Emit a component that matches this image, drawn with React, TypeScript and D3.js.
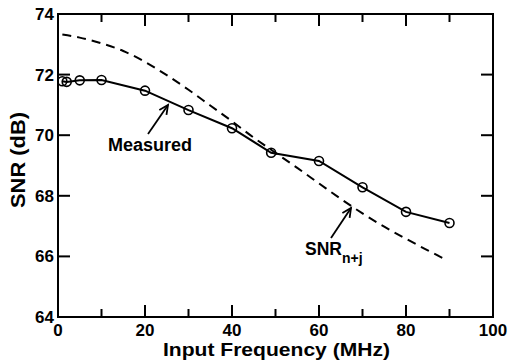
import React from "react";
import * as d3 from "d3";

const measuredFreq = [1, 2, 5, 10, 20, 30, 40, 49, 60, 70, 80, 90];
const measuredSnr = [71.78, 71.76, 71.81, 71.82, 71.47, 70.83, 70.23, 69.42, 69.15, 68.28, 67.47, 67.1];

const theoryFreq = [1, 5, 10, 15, 20, 25, 30, 35, 40, 45, 50, 55, 60, 65, 70, 75, 80, 85, 89.5];
const theorySnr = [73.32, 73.22, 73.03, 72.78, 72.42, 71.98, 71.5, 70.98, 70.46, 69.92, 69.42, 68.92, 68.41, 67.9, 67.42, 66.98, 66.58, 66.2, 65.87];

const xMajorTicks = [0, 20, 40, 60, 80, 100];
const xMinorTicks = [10, 30, 50, 70, 90];
const yTicks = [64, 66, 68, 70, 72, 74];

const W = 516;
const H = 362;
const M = { left: 58, right: 23, top: 14, bottom: 45 };
const FONT = "'Liberation Sans', Arial, Helvetica, sans-serif";

export default function App() {
  const x = d3.scaleLinear().domain([0, 100]).range([M.left, W - M.right]);
  const y = d3.scaleLinear().domain([64, 74]).range([H - M.bottom, M.top]);
  const measuredPath = d3
    .line<[number, number]>()
    .x((d) => x(d[0]))
    .y((d) => y(d[1]))(measuredFreq.map((f, i) => [f, measuredSnr[i]]));
  const theoryPath = d3
    .line<[number, number]>()
    .curve(d3.curveMonotoneX)
    .x((d) => x(d[0]))
    .y((d) => y(d[1]))(theoryFreq.map((f, i) => [f, theorySnr[i]]));

  const x0 = x(0), x1 = x(100), y0 = y(64), y1 = y(74);
  const major = 12, minor = 8;

  const arrow = (fx: number, fy: number, tx: number, ty: number) => {
    const ang = Math.atan2(ty - fy, tx - fx);
    const len = 10, spread = 0.45;
    const a1 = ang + Math.PI - spread, a2 = ang + Math.PI + spread;
    return (
      <g stroke="#000" strokeWidth={1.8} fill="none">
        <line x1={fx} y1={fy} x2={tx} y2={ty} />
        <path d={`M${tx + len * Math.cos(a1)},${ty + len * Math.sin(a1)} L${tx},${ty} L${tx + len * Math.cos(a2)},${ty + len * Math.sin(a2)}`} />
      </g>
    );
  };

  return (
    <svg width={W} height={H} style={{ position: "absolute", left: 0, top: 0, background: "#fff" }} fontFamily={FONT} fontWeight="bold">
      <rect x={0} y={0} width={W} height={H} fill="#fff" />
      <path d={theoryPath || ""} fill="none" stroke="#000" strokeWidth={2} strokeDasharray="9,6" />
      <path d={measuredPath || ""} fill="none" stroke="#000" strokeWidth={2} />
      {measuredFreq.map((f, i) => (
        <circle key={i} cx={x(f)} cy={y(measuredSnr[i])} r={4.5} fill="none" stroke="#000" strokeWidth={1.6} />
      ))}
      <rect x={x0} y={y1} width={x1 - x0} height={y0 - y1} fill="none" stroke="#000" strokeWidth={2} />
      <g stroke="#000" strokeWidth={2}>
        {xMajorTicks.map((t) => (
          <g key={"M" + t}>
            <line x1={x(t)} x2={x(t)} y1={y0} y2={y0 - major} />
            <line x1={x(t)} x2={x(t)} y1={y1} y2={y1 + major} />
          </g>
        ))}
        {xMinorTicks.map((t) => (
          <g key={"m" + t}>
            <line x1={x(t)} x2={x(t)} y1={y0} y2={y0 - minor} />
            <line x1={x(t)} x2={x(t)} y1={y1} y2={y1 + minor} />
          </g>
        ))}
        {yTicks.map((t) => (
          <g key={"y" + t}>
            <line x1={x0} x2={x0 + major} y1={y(t)} y2={y(t)} />
            <line x1={x1} x2={x1 - major} y1={y(t)} y2={y(t)} />
          </g>
        ))}
      </g>
      {xMajorTicks.map((t) => (
        <text key={"xl" + t} x={x(t)} y={y0 + 19} textAnchor="middle" fontSize={17}>
          {t}
        </text>
      ))}
      {yTicks.map((t) => (
        <text key={"yl" + t} x={x0 - 4} y={y(t) + 6} textAnchor="end" fontSize={17}>
          {t}
        </text>
      ))}
      <text x={163} y={356} fontSize={19} textLength={227} lengthAdjust="spacingAndGlyphs">
        Input Frequency (MHz)
      </text>
      <text transform={`translate(25,160) rotate(-90)`} textAnchor="middle" fontSize={20} textLength={96} lengthAdjust="spacingAndGlyphs">
        SNR (dB)
      </text>
      {arrow(148, 134, 168, 105)}
      <text x={108} y={151} fontSize={18}>Measured</text>
      {arrow(331, 238, 351, 208)}
      <text x={305} y={255} fontSize={17.5}>
        SNR<tspan fontSize={14} dy={7.5}>n+j</tspan>
      </text>
    </svg>
  );
}
